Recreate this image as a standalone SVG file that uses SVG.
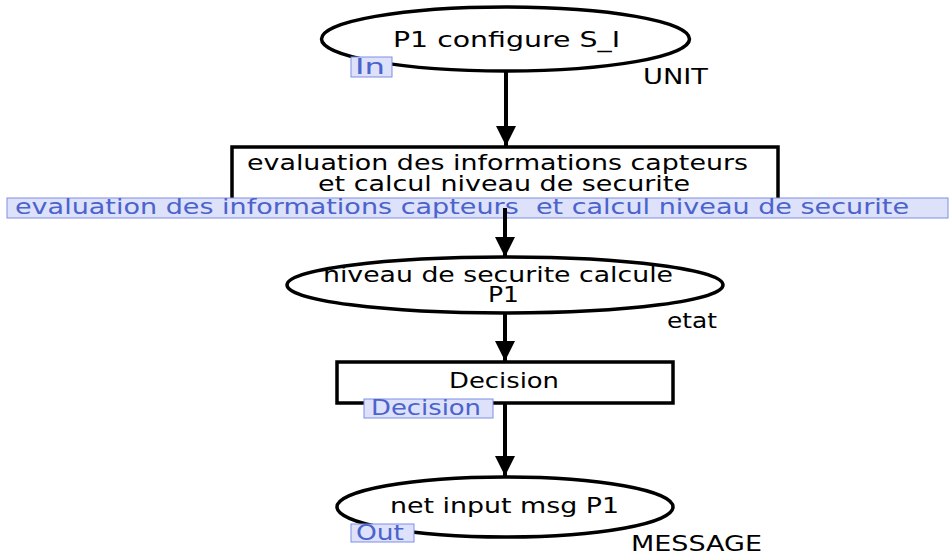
<svg xmlns="http://www.w3.org/2000/svg" width="949" height="554" viewBox="0 0 949 554">
<defs>
<marker id="arr" markerUnits="userSpaceOnUse" markerWidth="24" markerHeight="20" refX="22" refY="11" orient="auto" viewBox="0 0 24 22">
<path d="M0,0 L22,11 L0,22 Z" fill="#000"/>
</marker>
<style>
.shape{fill:#fff;stroke:#000;stroke-width:3.5}
.t{font-family:"DejaVu Sans",Verdana,sans-serif;font-size:20.5px;fill:#000}
.lb{fill:#dde1f9;stroke:#7d8fe6;stroke-width:1}
.lt{font-family:"DejaVu Sans",Verdana,sans-serif;font-size:20.5px;fill:#4b63cc;white-space:pre}
.c{fill:none;stroke:#000;stroke-width:4}
</style>
</defs>
<rect width="949" height="554" fill="#fff"/>
<g id="p1">
<ellipse class="shape" cx="505.5" cy="39" rx="184" ry="32"/>
<text class="t" x="393" y="47" textLength="227" lengthAdjust="spacingAndGlyphs">P1 configure S_I</text>
<rect class="lb" x="351" y="57" width="41" height="20"/>
<text class="lt" x="355" y="74" textLength="30" lengthAdjust="spacingAndGlyphs">In</text>
<text class="t" x="643" y="84" textLength="65" lengthAdjust="spacingAndGlyphs">UNIT</text>
</g>
<g id="t1">
<rect class="shape" x="232" y="147" width="546" height="61"/>
<text class="t" x="247" y="170" textLength="501" lengthAdjust="spacingAndGlyphs">evaluation des informations capteurs</text>
<text class="t" x="318" y="191" textLength="372" lengthAdjust="spacingAndGlyphs">et calcul niveau de securite</text>
<rect class="lb" x="7" y="198" width="941" height="20"/>
<text class="lt" x="15" y="214" textLength="894" lengthAdjust="spacingAndGlyphs" xml:space="preserve">evaluation des informations capteurs  et calcul niveau de securite</text>
</g>
<g id="p2">
<ellipse class="shape" cx="505" cy="285" rx="218" ry="28"/>
<text class="t" x="323" y="282" textLength="350" lengthAdjust="spacingAndGlyphs">niveau de securite calcule</text>
<text class="t" x="488" y="302" textLength="31" lengthAdjust="spacingAndGlyphs">P1</text>
<text class="t" x="667" y="328" textLength="50" lengthAdjust="spacingAndGlyphs">etat</text>
</g>
<g id="t2">
<rect class="shape" x="337" y="362" width="336" height="41"/>
<text class="t" x="449" y="388" textLength="110" lengthAdjust="spacingAndGlyphs">Decision</text>
<rect class="lb" x="364" y="399" width="129" height="19"/>
<text class="lt" x="371" y="415" textLength="110" lengthAdjust="spacingAndGlyphs">Decision</text>
</g>
<g id="p3">
<ellipse class="shape" cx="505" cy="507" rx="168" ry="30"/>
<text class="t" x="390" y="513" textLength="229" lengthAdjust="spacingAndGlyphs">net input msg P1</text>
<rect class="lb" x="351" y="524" width="63" height="18"/>
<text class="lt" x="356" y="540" textLength="48" lengthAdjust="spacingAndGlyphs">Out</text>
<text class="t" x="631" y="551" textLength="131" lengthAdjust="spacingAndGlyphs">MESSAGE</text>
</g>
<g id="connectors">
<line class="c" x1="506" y1="71" x2="506" y2="146" marker-end="url(#arr)"/>
<line class="c" x1="505" y1="208" x2="505" y2="257" marker-end="url(#arr)"/>
<line class="c" x1="505" y1="313" x2="505" y2="361" marker-end="url(#arr)"/>
<line class="c" x1="505" y1="403" x2="505" y2="476" marker-end="url(#arr)"/>
</g>
</svg>
